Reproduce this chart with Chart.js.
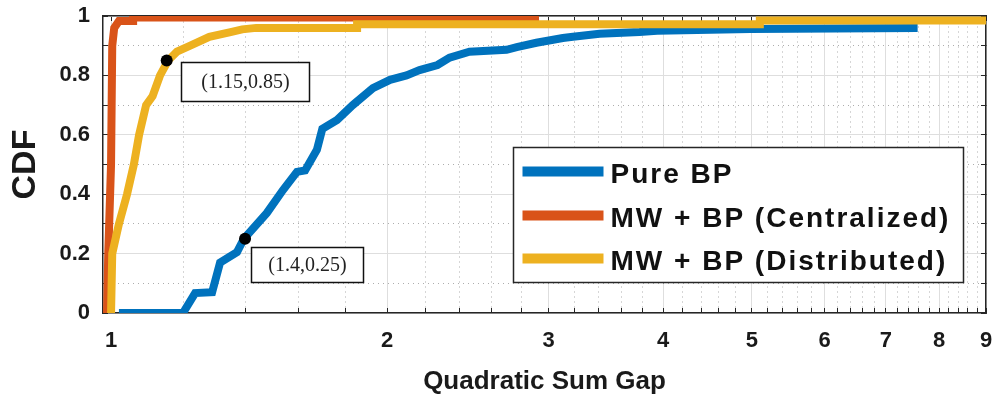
<!DOCTYPE html>
<html>
<head>
<meta charset="utf-8">
<script src="https://cdn.jsdelivr.net/npm/chart.js@4.4.0/dist/chart.umd.min.js"></script>
<style>
  html, body { margin: 0; padding: 0; background: #fff; }
  #wrap { width: 998px; height: 407px; }
</style>
</head>
<body>
<div id="wrap"><canvas id="cdfChart"></canvas></div>
<script>
// --- data ---
const seriesLabels = ['Pure BP', 'MW + BP (Centralized)', 'MW + BP (Distributed)'];

const pureX = [1.02, 1.198, 1.235, 1.289, 1.315, 1.372, 1.396, 1.479, 1.54, 1.595, 1.628, 1.677, 1.70, 1.764, 1.835,
               1.93, 2.015, 2.10, 2.17, 2.27, 2.34, 2.46, 2.70, 2.77, 2.91, 3.11, 3.19, 3.41, 3.77, 3.94, 4.98, 7.58];
const pureY = [0, 0, 0.067, 0.07, 0.17, 0.205, 0.25, 0.337, 0.414, 0.475, 0.48, 0.55, 0.62, 0.65, 0.70,
               0.757, 0.785, 0.80, 0.818, 0.835, 0.86, 0.88, 0.886, 0.895, 0.91, 0.926, 0.93, 0.94, 0.946, 0.95, 0.956, 0.96];

const centX = [0.99, 0.993, 1.0, 1.003, 1.008, 1.02, 1.057, 1.057, 2.9, 2.9];
const centY = [0, 0.2, 0.5, 0.9, 0.96, 0.983, 0.983, 0.995, 0.995, 1.0];

const distX = [1.0, 1.003, 1.02, 1.041, 1.059, 1.073, 1.092, 1.11, 1.131, 1.154, 1.18, 1.22, 1.28, 1.35, 1.39, 1.44,
               1.855, 1.855, 5.1, 5.1, 9];
const distY = [0, 0.2, 0.3, 0.4, 0.5, 0.6, 0.7, 0.73, 0.8, 0.85, 0.88, 0.9, 0.93, 0.946, 0.955, 0.96,
               0.96, 0.972, 0.972, 0.985, 0.985];

// marked points
const annX = [1.15, 1.4];
const annY = [0.85, 0.25];
const annText = ['(1.15,0.85)', '(1.4,0.25)'];

// axes
const xMajor = [1, 2, 3, 4, 5, 6, 7, 8, 9];
const yTicks = [0, 0.1, 0.2, 0.3, 0.4, 0.5, 0.6, 0.7, 0.8, 0.9, 1];
const yLabels = ['0', '0.2', '0.4', '0.6', '0.8', '1'];

// minor ticks every 0.2 between the integers
const xTicks = [];
xMajor.forEach((m, i) => {
    xTicks.push(m);
    if (i < xMajor.length - 1) for (let k = 1; k < 5; k++) xTicks.push(+(m + k * 0.2).toFixed(1));
});

const colors = ['#0072BD', '#D95319', '#EDB120'];
const isMajor = v => Math.abs(v - Math.round(v)) < 1e-6;
const pts = (xs, ys) => xs.map((x, i) => ({ x: x, y: ys[i] }));

const SANS = '"Liberation Sans", Arial, Helvetica, sans-serif';
const axisColor = '#262626';
const majorGrid = '#dedede';
const minorGrid = 'rgba(0,0,0,0.32)';

// keep the plot box fixed: no extra room for overhanging labels
const noPad = s => { s.paddingLeft = 0; s.paddingRight = 0; s.paddingTop = 0; s.paddingBottom = 0; };

// boxes next to the marked points (offset from the dot, size)
const annBoxes = [
    { dx: 14, dy: 1.5, w: 128, h: 39 },
    { dx: 6, dy: 8, w: 112, h: 35 }
];

const annotationPlugin = {
    id: 'annBoxes',
    afterDatasetsDraw(chart) {
        const { ctx } = chart;
        const xs = chart.scales.x, ys = chart.scales.y;
        ctx.save();
        annText.forEach((t, i) => {
            const b = annBoxes[i];
            const px = xs.getPixelForValue(annX[i]);
            const py = ys.getPixelForValue(annY[i]);
            const left = Math.round(px + b.dx) + 0.5, top = Math.round(py + b.dy) + 0.5;
            ctx.fillStyle = '#fff';
            ctx.fillRect(left, top, b.w, b.h);
            ctx.strokeStyle = '#111';
            ctx.lineWidth = 1.5;
            ctx.strokeRect(left, top, b.w, b.h);
            ctx.fillStyle = '#222';
            ctx.font = '20px "Liberation Serif", "Times New Roman", serif';
            ctx.textAlign = 'center';
            ctx.textBaseline = 'middle';
            ctx.fillText(t, left + b.w / 2, top + b.h / 2 + 1);
        });
        ctx.restore();
    }
};

// legend box inside the lower right of the plot
const legendPlugin = {
    id: 'boxLegend',
    afterDraw(chart) {
        const { ctx, chartArea } = chart;
        const w = 450, h = 135;
        const left = chartArea.right - 23 - w + 0.5;
        const top = chartArea.bottom - 31 - h + 0.5;
        const rows = [24, 68, 111];
        ctx.save();
        ctx.fillStyle = '#fff';
        ctx.fillRect(left, top, w, h);
        ctx.strokeStyle = '#262626';
        ctx.lineWidth = 1.5;
        ctx.strokeRect(left, top, w, h);
        chart.data.datasets.slice(0, 3).forEach((ds, i) => {
            const y = top + rows[i];
            ctx.strokeStyle = ds.borderColor;
            ctx.lineWidth = 10;
            ctx.beginPath();
            ctx.moveTo(left + 9, y);
            ctx.lineTo(left + 90, y);
            ctx.stroke();
            ctx.fillStyle = '#111';
            ctx.font = 'bold 28px ' + SANS;
            ctx.textAlign = 'left';
            ctx.textBaseline = 'alphabetic';
            if ('letterSpacing' in ctx) ctx.letterSpacing = '2px';
            ctx.fillText(ds.label, left + 97, y + 11);
            if ('letterSpacing' in ctx) ctx.letterSpacing = '0px';
        });
        ctx.restore();
    }
};

const lineSet = (i, xs, ys, order) => ({
    type: 'line',
    label: seriesLabels[i],
    data: pts(xs, ys),
    borderColor: colors[i],
    backgroundColor: colors[i],
    borderWidth: 8,
    pointRadius: 0,
    tension: 0,
    fill: false,
    order: order
});

new Chart(document.getElementById('cdfChart'), {
    type: 'line',
    data: {
        datasets: [
            lineSet(0, pureX, pureY, 3),
            lineSet(1, centX, centY, 2),
            lineSet(2, distX, distY, 1),
            {
                type: 'scatter',
                label: 'marks',
                data: pts(annX, annY),
                backgroundColor: '#000',
                borderWidth: 0,
                pointRadius: 6,
                showLine: false,
                order: 0
            }
        ]
    },
    options: {
        responsive: true,
        maintainAspectRatio: false,
        animation: false,
        devicePixelRatio: 1,
        layout: { padding: { top: 16, right: 12, left: 0, bottom: 0 } },
        plugins: { legend: { display: false }, tooltip: { enabled: false } },
        scales: {
            x: {
                type: 'logarithmic',
                position: 'bottom',
                min: 0.98, max: 9,
                afterBuildTicks: s => { s.ticks = xTicks.map(v => ({ value: v })); },
                afterFit: s => { s.height = 94; noPad(s); },
                ticks: {
                    autoSkip: false, maxRotation: 0, minRotation: 0,
                    padding: 20,
                    color: '#1a1a1a',
                    font: { family: SANS, size: 22, weight: 'bold' },
                    callback: v => isMajor(v) ? String(Math.round(v)) : ''
                },
                grid: {
                    color: c => (c.tick && isMajor(c.tick.value)) ? majorGrid : 'rgba(0,0,0,0)',
                    lineWidth: 1,
                    tickLength: -5,
                    tickColor: axisColor
                },
                border: { color: axisColor, width: 1.5 },
                title: {
                    display: true, text: 'Quadratic Sum Gap', color: '#1a1a1a',
                    font: { family: SANS, size: 26, weight: 'bold' },
                    padding: { top: 0, bottom: 10 }
                }
            },
            x2: {
                axis: 'x',
                type: 'logarithmic',
                position: 'top',
                min: 0.98, max: 9,
                afterBuildTicks: s => { s.ticks = xTicks.map(v => ({ value: v })); },
                afterFit: s => { s.height = 0; noPad(s); },
                ticks: { display: false },
                grid: {
                    color: c => (c.tick && isMajor(c.tick.value)) ? 'rgba(0,0,0,0)' : minorGrid,
                    lineWidth: 1,
                    tickLength: -5,
                    tickColor: axisColor
                },
                border: { color: axisColor, width: 1.5, dash: [1, 4] }
            },
            y: {
                type: 'linear',
                position: 'left',
                min: 0, max: 1,
                afterBuildTicks: s => { s.ticks = yTicks.map(v => ({ value: v })); },
                afterFit: s => { s.width = 103; noPad(s); },
                ticks: {
                    autoSkip: false,
                    padding: 18,
                    color: '#1a1a1a',
                    font: { family: SANS, size: 22, weight: 'bold' },
                    callback: (v, i) => i % 2 === 0 ? yLabels[i / 2] : ''
                },
                grid: {
                    color: c => c.index % 2 === 0 ? majorGrid : 'rgba(0,0,0,0)',
                    lineWidth: 1,
                    tickLength: -5,
                    tickColor: axisColor
                },
                border: { color: axisColor, width: 1.5 },
                title: {
                    display: true, text: 'CDF', color: '#1a1a1a',
                    font: { family: SANS, size: 34, weight: 'bold' },
                    padding: { top: 5, bottom: 0 }
                }
            },
            y2: {
                axis: 'y',
                type: 'linear',
                position: 'right',
                min: 0, max: 1,
                afterBuildTicks: s => { s.ticks = yTicks.map(v => ({ value: v })); },
                afterFit: s => { s.width = 0; noPad(s); },
                ticks: { display: false },
                grid: {
                    color: c => c.index % 2 === 1 ? minorGrid : 'rgba(0,0,0,0)',
                    lineWidth: 1,
                    tickLength: -5,
                    tickColor: axisColor
                },
                border: { color: axisColor, width: 1.5, dash: [1, 4] }
            }
        }
    },
    plugins: [annotationPlugin, legendPlugin]
});
</script>
</body>
</html>
